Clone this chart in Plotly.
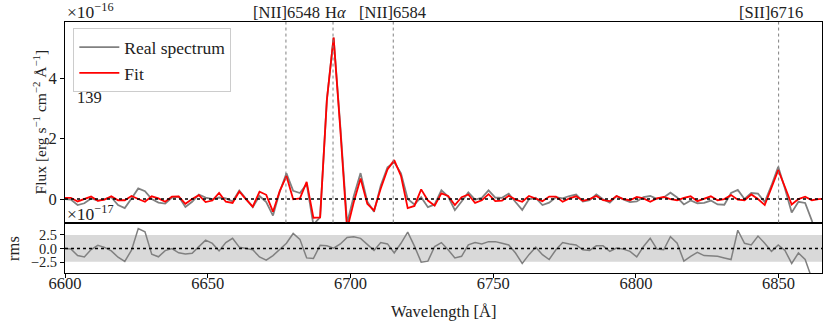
import numpy as np
import plotly.graph_objects as go
from plotly.subplots import make_subplots

# spectral sampling (Angstrom)
WL_START = 6599.7
WL_STEP = 2.36

# flux in units of 1e-16 erg/s/cm2/A
real_flux = [
    0.0, -0.02, -0.2, -0.14, 0.02, -0.05, 0.0, 0.06, -0.2, -0.3,
    0.02, 0.35, 0.26, 0.0, -0.12, -0.15, 0.05, 0.08, -0.26, -0.09,
    0.15, 0.05, 0.0, 0.05, 0.02, -0.08, 0.28, 0.02, -0.27, 0.1,
    -0.1, -0.55, 0.24, 0.85, 0.27, 0.2, 0.5, -0.85, -0.6, 3.3,
    5.35, 2.4, -0.8, 0.1, 0.86, -0.08, -0.42, 0.45, 1.05, 1.22,
    0.85, 0.0, -0.18, 0.06, -0.27, -0.18, 0.29, 0.08, -0.37, -0.08,
    0.22, -0.02, 0.04, 0.29, 0.05, 0.04, 0.18, -0.1, -0.36, -0.01,
    0.04, -0.2, -0.12, 0.06, 0.02, 0.1, 0.15, -0.08, -0.04, 0.15,
    -0.01, -0.12, 0.1, -0.01, -0.1, -0.08, 0.06, 0.1, 0.01, 0.05,
    0.21, 0.05, -0.18, -0.05, -0.14, -0.13, -0.05, -0.18, -0.19, 0.2,
    0.3, 0.0, 0.2, 0.18, -0.1, 0.45, 1.07, 0.35, -0.45, -0.09,
    -0.13, -0.72, -1.5, -1.5,
]
fit_flux = [
    0.04, 0.04, -0.08, 0.0, 0.08, -0.06, -0.02, 0.09, -0.04, -0.04,
    0.1, 0.0, -0.09, 0.09, 0.02, -0.09, 0.08, 0.09, -0.16, 0.0,
    0.13, -0.1, -0.05, 0.2, -0.09, -0.13, 0.25, -0.01, -0.25, 0.24,
    0.14, -0.42, 0.26, 0.76, -0.01, 0.02, 0.57, -0.62, -0.61, 3.28,
    5.35, 2.3, -1.0, -0.1, 0.68, -0.16, -0.38, 0.35, 0.98, 1.29,
    0.77, -0.3, -0.23, 0.32, -0.05, -0.22, 0.19, 0.1, -0.2, 0.06,
    0.15, -0.13, -0.04, 0.16, -0.07, -0.05, 0.11, -0.02, -0.09, 0.1,
    0.02, -0.07, 0.08, 0.08, -0.09, 0.02, 0.09, -0.06, 0.0, 0.1,
    -0.04, -0.07, 0.1, 0.0, -0.04, 0.07, 0.02, -0.09, 0.02, 0.07,
    0.0, -0.04, 0.04, 0.09, -0.07, 0.0, 0.09, -0.04, 0.0, 0.13,
    -0.02, -0.04, 0.15, 0.0, -0.2, 0.38, 0.96, 0.4, -0.18, 0.0,
    0.08, -0.04, 0.0, 0.01,
]
# residuals in units of 1e-17
rms_resid = [
    0.03, -0.1, -1.3, -1.55, -0.2, 0.58, 0.2, -0.45, -1.6, -2.38,
    -0.3, 3.65, 3.05, -1.05, -1.52, -0.4, -0.03, -0.8, -1.0, -0.87,
    0.33, 1.53, 0.93, -0.45, 1.07, 1.85, 0.24, 0.06, -0.24, -1.55,
    -2.14, -1.31, -0.24, 0.95, 2.74, 1.67, -1.73, -1.85, 0.6, 0.48,
    0.06, 0.83, 2.02, 2.14, 1.85, 0.65, -0.36, 1.07, 0.83, -0.83,
    0.95, 2.98, 0.42, -2.5, -2.32, 0.36, 1.07, -0.24, -1.73, -1.43,
    0.65, 1.07, 0.83, 1.25, 1.25, 0.95, 0.65, -0.83, -2.74, -1.13,
    0.24, -1.13, -2.02, -0.24, 1.07, 0.83, 0.65, -0.24, -0.36, 0.48,
    0.48, -0.54, 0.06, -0.12, -0.54, -1.55, 0.36, 1.85, -0.12, -0.24,
    2.14, 0.95, -2.32, -1.43, -0.71, -1.31, -1.43, -1.43, -1.73, -2.02,
    3.33, 0.95, 0.65, 2.26, 0.95, -0.54, 0.65, -0.36, -2.74, -0.83,
    -2.02, -6.0, -9.0, -9.0,
]
rms_level = 2.45

line_names = ["[NII]6548", "H<i>α</i>", "[NII]6584", "[SII]6716"]
line_waves = [6677.4, 6693.9, 6715.0, 6850.0]
label_waves = [6677.6, 6694.9, 6714.7, 6847.2]

x_ticks = [6600, 6650, 6700, 6750, 6800, 6850]
flux_ticks = [0, 2, 4]
rms_ticks = [-2.5, 0.0, 2.5]
rms_ticktext = ["−2.5", "0.0", "2.5"]

wave = WL_START + WL_STEP * np.arange(len(fit_flux))
x_range = [6600, 6865.2]

FONT = "Liberation Serif"
FS = 16.5
INK = "#222"

fig = make_subplots(rows=2, cols=1, shared_xaxes=True,
                    row_heights=[0.799, 0.201], vertical_spacing=0)

fig.add_trace(go.Scatter(x=wave, y=real_flux, mode="lines", name="Real spectrum",
                         line=dict(color="#808080", width=1.8)), row=1, col=1)
fig.add_trace(go.Scatter(x=wave, y=fit_flux, mode="lines", name="Fit",
                         line=dict(color="#ff0000", width=1.8)), row=1, col=1)

# grey rms band
fig.add_trace(go.Scatter(x=x_range + x_range[::-1],
                         y=[-rms_level, -rms_level, rms_level, rms_level],
                         fill="toself", fillcolor="#d9d9d9", mode="none",
                         showlegend=False, hoverinfo="skip"), row=2, col=1)
fig.add_trace(go.Scatter(x=wave, y=rms_resid, mode="lines", showlegend=False,
                         line=dict(color="#808080", width=1.5)), row=2, col=1)

# zero lines
for r in (1, 2):
    fig.add_trace(go.Scatter(x=x_range, y=[0, 0], mode="lines", showlegend=False,
                             line=dict(color="black", width=1.5, dash="dot"),
                             hoverinfo="skip"), row=r, col=1)

top_bottom = 0.201
for w in line_waves:
    fig.add_shape(type="line", xref="x", yref="paper", x0=w, x1=w,
                  y0=top_bottom, y1=1,
                  line=dict(color="#808080", width=1, dash="dot"))

for name, w in zip(line_names, label_waves):
    fig.add_annotation(x=w, xref="x", y=1, yref="paper", yanchor="bottom",
                       text=name, showarrow=False, yshift=-2,
                       font=dict(family=FONT, size=FS, color=INK))

fig.add_annotation(x=0, xref="paper", y=1, yref="paper", xanchor="left",
                   yanchor="bottom", text="×10<sup>−16</sup>", showarrow=False,
                   yshift=-2, font=dict(family=FONT, size=FS + 1, color=INK))
fig.add_annotation(x=0, xref="paper", y=top_bottom, yref="paper", xanchor="left",
                   yanchor="bottom", text="×10<sup>−17</sup>", showarrow=False,
                   yshift=-3, font=dict(family=FONT, size=FS + 1, color=INK))
fig.add_annotation(x=0.013, xref="paper", y=0.70, yref="paper", xanchor="left",
                   yanchor="middle", text="139", showarrow=False,
                   font=dict(family=FONT, size=FS, color=INK))

# axis titles
fig.add_annotation(x=-0.033, xref="paper", y=0.6, yref="paper", textangle=-90,
                   xanchor="center", yanchor="middle", showarrow=False,
                   text="Flux [erg s<sup>−1</sup> cm<sup>−2</sup> Å<sup>−1</sup>]",
                   font=dict(family=FONT, size=FS - 1, color=INK))
fig.add_annotation(x=-0.0674, xref="paper", y=0.1, yref="paper", textangle=-90,
                   xanchor="center", yanchor="middle", showarrow=False,
                   text="rms", font=dict(family=FONT, size=FS, color=INK))
fig.add_annotation(x=0.5, xref="paper", y=-0.152, yref="paper",
                   xanchor="center", yanchor="middle", showarrow=False,
                   text="Wavelength [Å]", font=dict(family=FONT, size=FS, color=INK))

axis_common = dict(showline=True, linecolor="black", linewidth=1, mirror=True,
                   showgrid=False, zeroline=False)
tick_font = dict(family=FONT, size=FS, color=INK)

fig.update_xaxes(range=x_range, ticks="", showticklabels=False, row=1, col=1, **axis_common)
fig.update_xaxes(range=x_range, tickvals=x_ticks, ticks="outside", ticklen=4,
                 tickcolor="black", showticklabels=True, tickfont=tick_font,
                 ticklabelstandoff=-9, row=2, col=1, **axis_common)
fig.update_yaxes(range=[-0.78, 5.87], tickvals=flux_ticks, ticks="outside", ticklen=4,
                 tickcolor="black", tickfont=tick_font, row=1, col=1, **axis_common)
fig.update_yaxes(range=[-4.49, 4.74], tickvals=rms_ticks, ticktext=rms_ticktext,
                 ticks="outside", ticklen=4, tickcolor="black",
                 tickfont=dict(family=FONT, size=FS - 2, color=INK),
                 row=2, col=1, **axis_common)

fig.update_layout(
    width=831, height=324,
    margin=dict(l=65, r=9.3, t=21.7, b=50.7),
    plot_bgcolor="white", paper_bgcolor="white",
    font=dict(family=FONT, size=FS, color=INK),
    legend=dict(x=0.011, y=0.975, xanchor="left", yanchor="top",
                bgcolor="white", bordercolor="#cccccc", borderwidth=1,
                font=dict(family=FONT, size=FS + 1), tracegroupgap=0,
                itemwidth=40),
)

fig.write_html("out.html", config={"displayModeBar": False},
               post_script="document.body.style.margin='0';")
